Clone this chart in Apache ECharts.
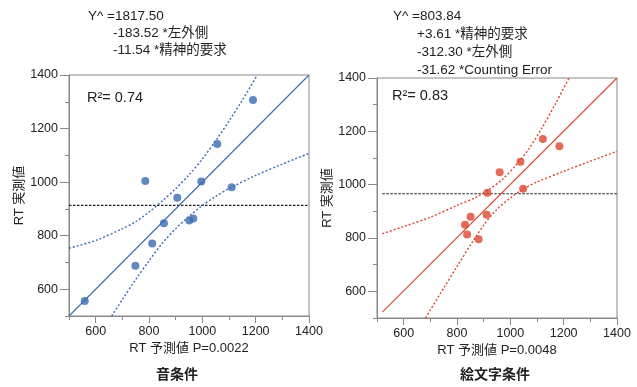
<!DOCTYPE html>
<html><head><meta charset="utf-8">
<script src="https://cdn.jsdelivr.net/npm/echarts@6/dist/echarts.min.js"></script>
<style>html,body{margin:0;padding:0;background:#fff}#c{width:637px;height:387px}</style>
</head><body><div id="c"></div>
<script>
// ---- tick values ----
const majorTicks = [600, 800, 1000, 1200, 1400];
const minorTicks = [500, 600, 700, 800, 900, 1000, 1100, 1200, 1300, 1400];

// ---- 音条件 (left) ----
const soundPredX   = [559, 749, 812, 856, 786, 906, 951, 966, 996, 1056, 1110, 1190];
const soundActualY = [556, 688, 771, 846, 1004, 942, 857, 864, 1002, 1142, 981, 1307];
const soundFitX = [500, 1400];
const soundFitY = [500, 1400];
const soundMeanX = [500, 1400];
const soundMeanY = [913, 913];
const soundUpperX = [500, 600, 700, 750, 800, 850, 900, 950, 1000, 1054, 1100, 1150, 1206];
const soundUpperY = [753, 782, 826, 852, 888, 930, 975, 1027, 1086, 1160, 1228, 1306, 1400];
const soundLowerX = [660, 700, 750, 800, 850, 900, 950, 994, 1050, 1110, 1200, 1300, 1400];
const soundLowerY = [500, 561, 636, 706, 772, 826, 872, 908, 947, 981, 1025, 1067, 1107];

// ---- 絵文字条件 (right) ----
const emojiPredX   = [830, 838, 851, 881, 911, 914, 960, 1038, 1048, 1122, 1184];
const emojiActualY = [850, 813, 880, 795, 887, 970, 1047, 1086, 985, 1171, 1144];
const emojiFitX = [520, 1400];
const emojiFitY = [522, 1400];
const emojiMeanX = [520, 1400];
const emojiMeanY = [966, 966];
const emojiUpperX = [520, 600, 700, 800, 870, 920, 970, 1020, 1070, 1120, 1170, 1220];
const emojiUpperY = [816, 843, 878, 922, 952, 982, 1020, 1072, 1135, 1215, 1305, 1400];
const emojiLowerX = [682, 750, 800, 861, 900, 947, 1000, 1047, 1100, 1200, 1300, 1400];
const emojiLowerY = [500, 612, 693, 790, 848, 905, 950, 983, 1010, 1050, 1088, 1125];

// ---- texts ----
const xTitles = ['RT 予測値 P=0.0022', 'RT 予測値 P=0.0048'];
const yTitle = 'RT 実測値';
const panelTitles = ['音条件', '絵文字条件'];
const r2Texts = ['R²= 0.74', 'R²= 0.83'];
const soundEq = ['Y^ =1817.50', '-183.52 *左外側', '-11.54 *精神的要求'];
const emojiEq = ['Y^ =803.84', '+3.61 *精神的要求', '-312.30 *左外側', '-31.62 *Counting Error'];

const FONT = "'Liberation Sans','Noto Sans CJK JP',sans-serif";
const AX = '#888';
const BLUE = '#3a6bb0';
const RED = '#dc4630';
const zip = (a, b) => a.map((v, i) => [v, b[i]]);

function mainAxis(grid, name, isY) {
  return {
    type: 'value', gridIndex: grid, min: 500, max: 1400, interval: 100,
    position: isY ? 'left' : 'bottom',
    axisLine: {show: true, onZero: false, lineStyle: {color: AX, width: 1}},
    axisTick: {show: true, length: 4, lineStyle: {color: AX}},
    axisLabel: {formatter: v => majorTicks.includes(v) ? String(v) : '', color: '#222',
      fontSize: 12.5, fontFamily: FONT, margin: isY ? 11 : 9},
    splitLine: {show: false},
    name: name, nameLocation: 'middle', nameGap: isY ? 42 : 25, nameRotate: isY ? 90 : 0,
    nameTextStyle: {color: '#222', fontSize: 13, fontFamily: FONT}
  };
}
function majorAxis(grid, isY) {
  return {
    type: 'value', gridIndex: grid, min: 500, max: 1400,
    position: isY ? 'left' : 'bottom',
    axisLine: {show: false, onZero: false},
    axisLabel: {show: false},
    splitLine: {show: false},
    axisTick: {show: true, length: isY ? 9 : 7, customValues: majorTicks, lineStyle: {color: AX}}
  };
}
function lineSeries(ax, xs, ys, color, type, width, smooth) {
  return {type: 'line', xAxisIndex: ax, yAxisIndex: ax, data: zip(xs, ys), symbol: 'none',
    showSymbol: false, smooth: smooth, silent: true, clip: true,
    lineStyle: {color: color, width: width, type: type}, z: 3};
}
function txt(x, y, text, size, align, weight) {
  return {type: 'text', x: x, y: y, silent: true,
    style: {text: text, fill: '#222', fontSize: size, fontFamily: FONT, fontWeight: weight || 'normal',
      align: align || 'left', verticalAlign: 'middle'}};
}

const chart = echarts.init(document.getElementById('c'), null, {renderer: 'canvas'});
const graphics = [];
soundEq.forEach((t, i) => graphics.push(txt(i === 0 ? 88 : 113, 16 + i * 17, t, 13.5)));
emojiEq.forEach((t, i) => graphics.push(txt(i === 0 ? 393 : 417, 16 + i * 18, t, 13.5)));
graphics.push(txt(87, 98, r2Texts[0], 14.5));
graphics.push(txt(392, 96, r2Texts[1], 14.5));
graphics.push(txt(177, 375, panelTitles[0], 14, 'center', 'bold'));
graphics.push(txt(495, 375, panelTitles[1], 14, 'center', 'bold'));

chart.setOption({
  animation: false,
  backgroundColor: '#fff',
  grid: [
    {left: 69, top: 75, width: 240, height: 241, show: true, borderColor: AX, borderWidth: 1, containLabel: false, outerBoundsMode: 'none'},
    {left: 377, top: 78, width: 240, height: 240, show: true, borderColor: AX, borderWidth: 1, containLabel: false, outerBoundsMode: 'none'}
  ],
  xAxis: [mainAxis(0, xTitles[0], false), majorAxis(0, false), mainAxis(1, xTitles[1], false), majorAxis(1, false)],
  yAxis: [mainAxis(0, yTitle, true), majorAxis(0, true), mainAxis(1, yTitle, true), majorAxis(1, true)],
  series: [
    lineSeries(0, soundMeanX, soundMeanY, '#222', [2.5, 1.5], 1.2, false),
    lineSeries(0, soundFitX, soundFitY, BLUE, 'solid', 1.1, false),
    lineSeries(0, soundUpperX, soundUpperY, BLUE, [2, 2], 1.4, 0.3),
    lineSeries(0, soundLowerX, soundLowerY, BLUE, [2, 2], 1.4, 0.3),
    {type: 'scatter', xAxisIndex: 0, yAxisIndex: 0, data: zip(soundPredX, soundActualY),
      symbolSize: 8, itemStyle: {color: BLUE}, z: 5},
    lineSeries(2, emojiMeanX, emojiMeanY, '#222', [2.5, 1.5], 1.2, false),
    lineSeries(2, emojiFitX, emojiFitY, RED, 'solid', 1.1, false),
    lineSeries(2, emojiUpperX, emojiUpperY, RED, [2, 2], 1.4, 0.3),
    lineSeries(2, emojiLowerX, emojiLowerY, RED, [2, 2], 1.4, 0.3),
    {type: 'scatter', xAxisIndex: 2, yAxisIndex: 2, data: zip(emojiPredX, emojiActualY),
      symbolSize: 8, itemStyle: {color: RED}, z: 5}
  ],
  graphic: graphics
});
</script></body></html>
